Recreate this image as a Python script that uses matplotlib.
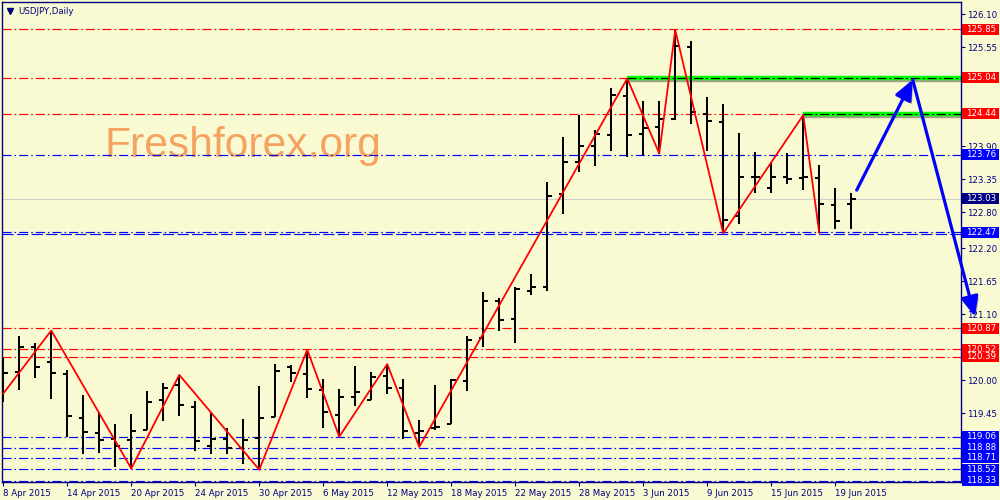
import numpy as np
import matplotlib
matplotlib.use('Agg')
import matplotlib.pyplot as plt
import matplotlib.patheffects as pe
from matplotlib.patches import Rectangle
from matplotlib.transforms import blended_transform_factory

# =============================================================
# Dados — USDJPY diário, 8 Abr 2015 a 22 Jun 2015
# =============================================================

abertura = [119.95, 120.14, 120.56, 120.31, 120.11, 119.38, 119.12, 119.03, 119.01, 119.17,
            119.68, 119.92, 119.56, 118.91, 119.03, 118.87, 119.04, 119.39, 120.23, 120.11,
            119.84, 119.42, 119.73, 119.68, 120.07, 119.87, 119.13, 119.21, 119.28, 119.99,
            120.71, 121.32, 121.02, 121.49, 121.55, 123.10, 123.64, 123.91, 124.09, 124.74,
            124.11, 124.23, 124.36, 125.56, 124.44, 124.31, 122.74, 123.39, 123.20, 123.39,
            123.37, 123.38, 122.93, 122.94]
maxima = [120.37, 120.74, 120.62, 120.83, 120.17, 119.76, 119.48, 119.27, 119.44, 119.82,
          119.95, 120.09, 119.66, 119.45, 119.21, 119.36, 119.91, 120.28, 120.26, 120.51,
          120.03, 119.85, 120.24, 120.14, 120.27, 120.02, 119.34, 119.92, 120.03, 120.74,
          121.47, 121.37, 121.55, 121.77, 123.30, 124.06, 124.43, 124.17, 124.88, 125.03,
          124.66, 124.66, 125.84, 125.66, 124.72, 124.61, 124.13, 123.81, 123.64, 123.79,
          124.42, 123.59, 123.21, 123.13]
minima = [119.64, 119.84, 120.04, 119.69, 119.06, 118.77, 118.79, 118.56, 118.53, 119.17,
          119.33, 119.41, 118.83, 118.78, 118.78, 118.60, 118.51, 119.39, 119.98, 119.71,
          119.20, 119.06, 119.58, 119.68, 119.78, 119.03, 118.89, 119.17, 119.28, 119.82,
          120.56, 120.83, 120.63, 121.42, 121.49, 122.77, 123.48, 123.58, 123.83, 123.73,
          123.76, 123.78, 124.34, 124.27, 123.83, 122.45, 122.61, 123.12, 123.13, 123.27,
          123.18, 122.46, 122.52, 122.52]
fechamento = [120.13, 120.56, 120.23, 120.13, 119.41, 119.14, 119.01, 118.91, 119.16, 119.64,
              119.88, 119.59, 118.99, 119.03, 118.88, 119.01, 119.37, 120.16, 120.13, 119.86,
              119.48, 119.73, 119.80, 120.06, 119.88, 119.16, 119.16, 119.23, 120.01, 120.68,
              121.32, 121.01, 121.53, 121.55, 123.08, 123.64, 123.91, 124.11, 124.76, 124.09,
              124.20, 124.35, 125.58, 124.48, 124.33, 122.68, 123.39, 123.39, 123.39, 123.35,
              123.39, 122.94, 122.66, 123.02]

datas_eixo = ['8 Apr 2015', '14 Apr 2015', '20 Apr 2015', '24 Apr 2015', '30 Apr 2015',
              '6 May 2015', '12 May 2015', '18 May 2015', '22 May 2015', '28 May 2015',
              '3 Jun 2015', '9 Jun 2015', '15 Jun 2015', '19 Jun 2015']

# ZigZag: valor na borda esquerda + pivôs (alternando topo / fundo)
zz_inicio = 119.78
zz_pivos = [3, 8, 11, 16, 19, 21, 24, 26, 39, 41, 42, 45, 50, 51]

niveis_vermelhos = [125.85, 125.04, 124.44, 120.87, 120.52, 120.39]
niveis_azuis = [123.76, 122.47, 119.06, 118.88, 118.71, 118.52, 118.33]
nivel_azul_extra = [122.44]
verde_niveis = [125.04, 124.44]
verde_inicio = [39, 50]
ultimo_preco = 123.03

# escala de preço visível (as demais ficam escondidas atrás das etiquetas)
ticks_preco = [126.10, 125.55, 123.90, 123.35, 122.80, 122.20,
               121.65, 121.10, 120.00, 119.45]

seta_x = [53.34, 56.84, 60.73]
seta_y = [123.17, 125.01, 121.06]

# =============================================================
# Estilo
# =============================================================
plt.rcParams['font.family'] = ['DejaVu Sans']
plt.rcParams['lines.scale_dashes'] = False

FUNDO = '#fafad2'
NAVY = '#000080'
DASHDOT = (0, (6.5, 2.2, 1.1, 2.2))
LW = 0.85
FS = 6.2

fig = plt.figure(figsize=(10, 5), dpi=100, facecolor=FUNDO)
ax = fig.add_axes([0.002, 0.036, 0.959, 0.96], facecolor=FUNDO)
xmin, xmax = -0.08, 59.86
ax.set_xlim(xmin, xmax)
ax.set_ylim(118.305, 126.305)

# marca d'água
ax.text(0.1074, 0.677, 'Freshforex.org', transform=ax.transAxes, fontsize=30.7,
        family='Liberation Sans', color='#f4a460', va='baseline', ha='left', zorder=0.5)

# linhas horizontais
for nv in niveis_vermelhos:
    ax.axhline(nv, color='#ff0000', lw=LW, ls=DASHDOT, zorder=1)
for nv in niveis_azuis:
    ax.axhline(nv, color='#0000ff', lw=LW, ls=DASHDOT, zorder=1)
for nv in nivel_azul_extra:
    ax.axhline(nv, color='#0000ff', lw=LW, ls=(0, (8, 2.5)), zorder=1)
ax.axhline(ultimo_preco, color='#cfcfcf', lw=0.72, zorder=0.8)

sombra = [pe.SimpleLineShadow(offset=(0.8, -1.8), shadow_color='k', alpha=0.35), pe.Normal()]
for nv, ini in zip(verde_niveis, verde_inicio):
    ax.plot([ini, xmax], [nv, nv], color='#00ff00', lw=3.2, solid_capstyle='butt',
            path_effects=sombra, zorder=1.2)
    ax.plot([ini, xmax], [nv, nv], color='k', lw=LW, ls=DASHDOT, zorder=1.3)

# barras OHLC
x = np.arange(len(abertura))
ax.vlines(x, minima, maxima, color='k', lw=1.45, zorder=3)
ax.hlines(abertura, x - 0.27, x, color='k', lw=1.45, zorder=3)
ax.hlines(fechamento, x, x + 0.27, color='k', lw=1.45, zorder=3)

# zigzag
zz_x = [0] + zz_pivos
zz_y = [zz_inicio] + [maxima[p] if k % 2 == 0 else minima[p] for k, p in enumerate(zz_pivos)]
ax.plot(zz_x, zz_y, color='#ff0000', lw=1.3, zorder=4)

# setas
sombra_seta = [pe.SimplePatchShadow(offset=(1.5, -2), shadow_rgbFace='k', alpha=0.3), pe.Normal()]
for i in range(len(seta_x) - 1):
    an = ax.annotate('', xy=(seta_x[i + 1], seta_y[i + 1]), xytext=(seta_x[i], seta_y[i]),
                     arrowprops=dict(arrowstyle='-|>,head_length=0.8,head_width=0.35',
                                     color='#0000ff', lw=2.3, mutation_scale=15,
                                     shrinkA=0, shrinkB=0),
                     annotation_clip=False, zorder=6)
    an.arrow_patch.set_path_effects(sombra_seta)

# eixos
for s in ax.spines.values():
    s.set_color(NAVY)
    s.set_linewidth(1.0)
ax.yaxis.tick_right()
ax.set_yticks(ticks_preco)
ax.set_yticklabels([f'{t:.2f}' for t in ticks_preco])
ax.tick_params(axis='y', direction='out', length=3, width=0.8, colors=NAVY,
               labelsize=FS, pad=1.5)
ax.set_xticks(np.arange(0, len(abertura), 4))
ax.set_xticklabels(datas_eixo)
ax.tick_params(axis='x', direction='out', length=3, width=0.8, colors=NAVY,
               labelsize=FS, pad=2)
for lab in ax.get_xticklabels():
    lab.set_ha('left')

# etiquetas de preço à direita
trans = blended_transform_factory(ax.transAxes, ax.transData)
etiquetas = ([(v, '#ff0000') for v in niveis_vermelhos] +
             [(v, '#0000ff') for v in niveis_azuis] + [(ultimo_preco, NAVY)])
for v, cor in etiquetas:
    ax.add_patch(Rectangle((1.001, v - 0.092), 0.0385, 0.184, transform=trans,
                           facecolor=cor, edgecolor='none', clip_on=False, zorder=7))
    ax.text(1.0055, v, f'{v:.2f}', transform=trans, color='white', fontsize=FS,
            va='center', ha='left', clip_on=False, zorder=8)

# título
ax.plot([0.0083], [0.981], marker='v', color=NAVY, ms=4, transform=ax.transAxes,
        clip_on=False, zorder=8)
ax.text(0.0167, 0.981, 'USDJPY,Daily', transform=ax.transAxes, color=NAVY,
        fontsize=FS, va='center', ha='left')

fig.savefig('out.png', dpi=100, facecolor=FUNDO)
